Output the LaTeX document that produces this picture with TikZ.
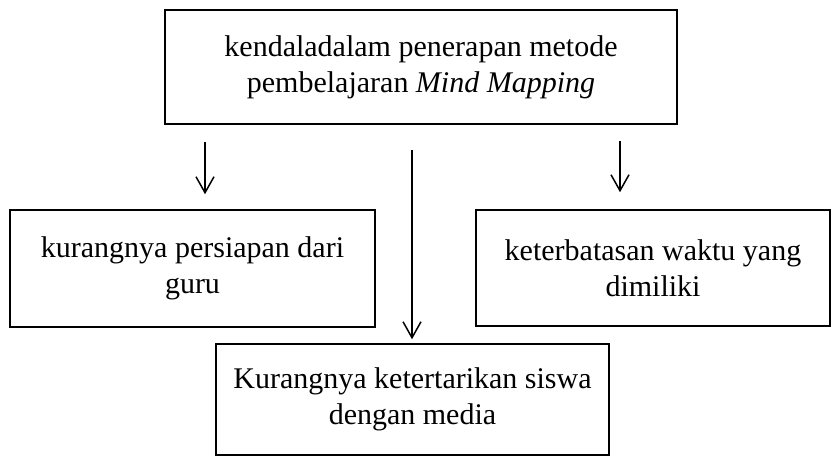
\documentclass[tikz,border=0pt]{standalone}
\usepackage{fontspec}
\setmainfont{Liberation Serif}
\usetikzlibrary{arrows.meta}
\begin{document}
\begin{tikzpicture}[x=0.4pt,y=-0.4pt,
  box/.style={draw=black,line width=0.6pt,inner sep=0pt,align=center,
    font=\fontsize{12}{14.4}\selectfont},
  arr/.style={draw=black,line width=0.6pt,-{Straight Barb[length=6.4pt,width=7.2pt,line width=0.6pt]}}]
\useasboundingbox (0,0) rectangle (840,459);
\node[box,minimum width=204.8pt,minimum height=45.6pt] (top) at (421,67)
  {kendaladalam penerapan metode\\pembelajaran \textit{Mind Mapping}};
\node[box,minimum width=146pt,minimum height=46.8pt] (left) at (192.5,268.5)
  {kurangnya persiapan dari\\guru};
\node[box,minimum width=141.6pt,minimum height=46.4pt] (right) at (653,268)
  {keterbatasan waktu yang\\dimiliki};
\node[box,minimum width=157.2pt,minimum height=44.4pt] (bottom) at (412.5,399.5)
  {Kurangnya ketertarikan siswa\\dengan media};
\coordinate (s1) at (205,142);
\coordinate (s2) at (412,150);
\coordinate (s3) at (620,141);
\draw[arr,shorten >=6pt] (s1) -- (s1 |- left.north);
\draw[arr,shorten >=1.6pt] (s2) -- (s2 |- bottom.north);
\draw[arr,shorten >=6.8pt] (s3) -- (s3 |- right.north);
\end{tikzpicture}
\end{document}
